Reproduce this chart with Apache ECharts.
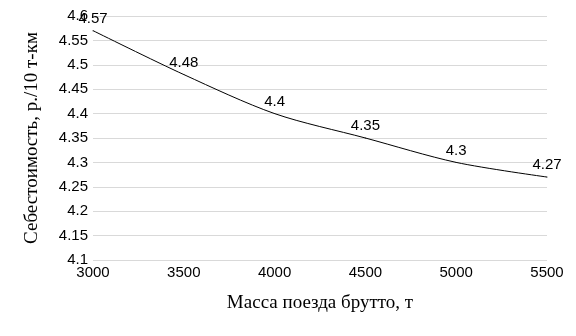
<!DOCTYPE html>
<html><head><meta charset="utf-8">
<script src="https://cdn.jsdelivr.net/npm/echarts@6/dist/echarts.min.js"></script>
<style>html,body{margin:0;padding:0;background:#fff}#c{width:576px;height:336px}</style>
</head><body><div id="c"></div>
<script>
const masses = [3000, 3500, 4000, 4500, 5000, 5500];
const costs = [4.57, 4.48, 4.4, 4.35, 4.3, 4.27];
const xTitle = 'Масса поезда брутто, т';
const yTitle = 'Себестоимость, р./10 т-км';
const serif = 'Liberation Serif';
const sans = 'Liberation Sans';
const chart = echarts.init(document.getElementById('c'));
chart.setOption({
  animation: false,
  grid: {left: 93, right: 29, top: 16, bottom: 76},
  xAxis: {
    type: 'value', min: 3000, max: 5500, interval: 500,
    name: xTitle, nameLocation: 'middle', nameGap: 34,
    nameTextStyle: {fontFamily: serif, fontSize: 19, color: '#000'},
    axisLine: {show: false}, axisTick: {show: false}, splitLine: {show: false},
    axisLabel: {fontFamily: sans, fontSize: 15, color: '#000', margin: 5,
      formatter: v => String(v)}
  },
  yAxis: {
    type: 'value', min: 4.1, max: 4.6, interval: 0.05,
    name: yTitle, nameLocation: 'middle', nameGap: 51,
    nameTextStyle: {fontFamily: serif, fontSize: 19, color: '#000'},
    axisLine: {show: false}, axisTick: {show: false},
    splitLine: {lineStyle: {color: '#d9d9d9', width: 1}},
    axisLabel: {fontFamily: sans, fontSize: 15, color: '#000', margin: 5,
      formatter: v => String(+v.toFixed(2))}
  },
  series: [{
    type: 'line', smooth: 0.3, symbol: 'circle', symbolSize: 1, showSymbol: true,
    data: masses.map((m, i) => [m, costs[i]]),
    lineStyle: {color: '#000', width: 1},
    itemStyle: {color: '#000'},
    label: {show: true, position: 'top', distance: 4, fontFamily: sans, fontSize: 15, color: '#000',
      formatter: p => String(p.value[1])}
  }]
});
</script></body></html>
